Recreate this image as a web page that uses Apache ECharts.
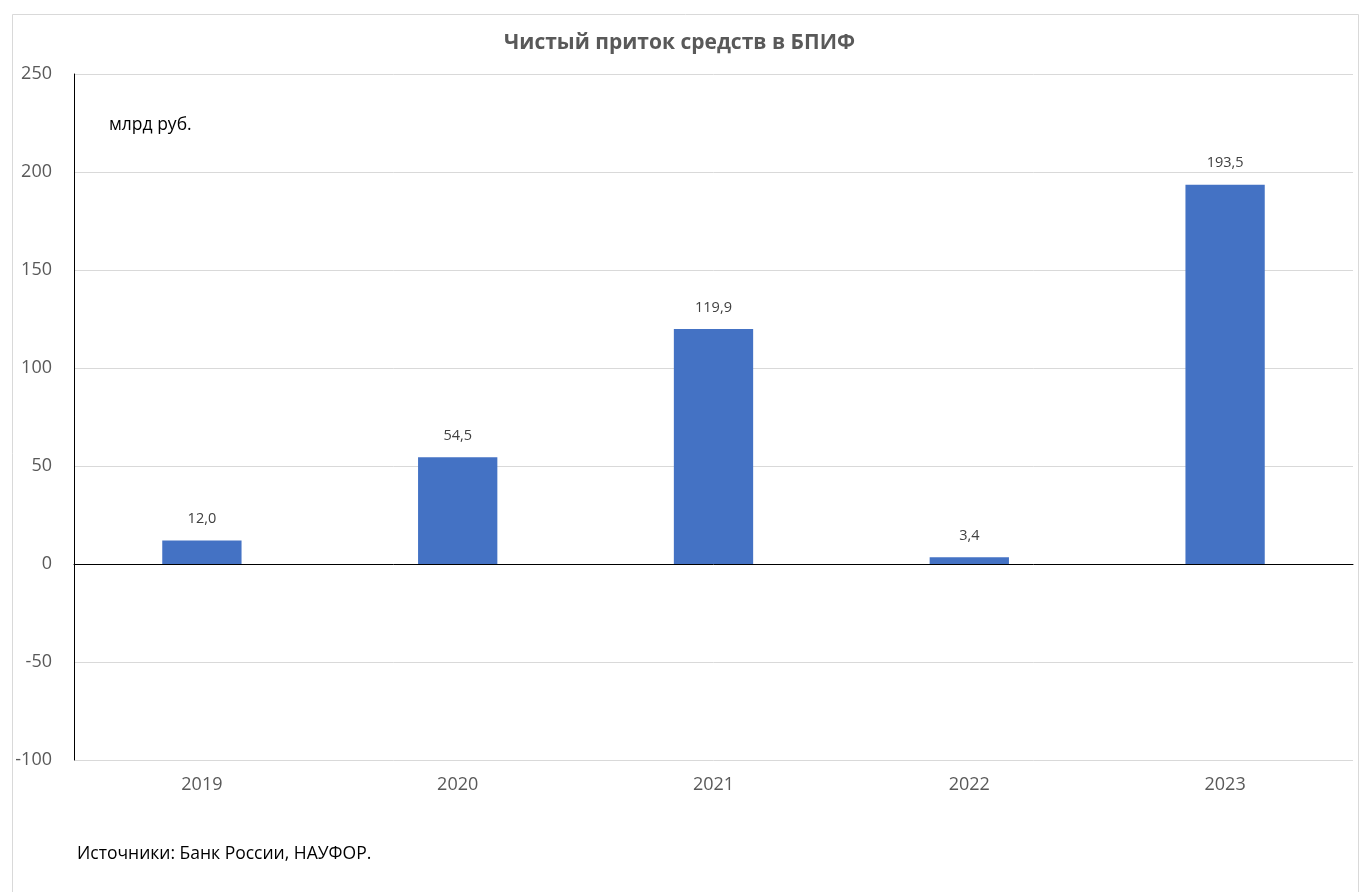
<!DOCTYPE html>
<html><head><meta charset="utf-8">
<script src="https://cdn.jsdelivr.net/npm/echarts@6/dist/echarts.min.js"></script>
<style>html,body{margin:0;padding:0;background:#fff}#c{width:1359px;height:892px}</style>
</head><body><div id="c"></div>
<script>
const categories = ['2019','2020','2021','2022','2023'];
const values = [12.0, 54.5, 119.9, 3.4, 193.5];
const yTicks = [-100, -50, 0, 50, 100, 150, 200, 250];
const titleText = 'Чистый приток средств в БПИФ';
const unitText = 'млрд руб.';
const sourceText = 'Источники: Банк России, НАУФОР.';
const FONT = '"Open Sans", "Noto Sans", sans-serif';

const chart = echarts.init(document.getElementById('c'), null, {renderer:'canvas'});
chart.setOption({
  backgroundColor:'#fff',
  animation:false,
  title:{text:titleText,left:'center',top:28,textStyle:{fontFamily:FONT,fontWeight:'bold',fontSize:21,color:'#595959'}},
  graphic:[
    {type:'rect',left:10,top:12,shape:{width:1346,height:900},style:{fill:'none',stroke:'#d9d9d9',lineWidth:1},z:-1},
    {type:'text',left:109,top:116,style:{text:unitText,font:'17.5px '+FONT,fill:'#000'}},
    {type:'text',left:77,top:845,style:{text:sourceText,font:'17.5px '+FONT,fill:'#000'}}
  ],
  grid:{left:74,right:6,top:74,bottom:132,containLabel:false,outerBoundsMode:'none'},
  xAxis:[
    {type:'category',data:categories,
      axisLine:{show:true,onZero:true,lineStyle:{color:'#000',width:1}},
      axisTick:{show:false},axisLabel:{show:false}},
    {type:'category',data:categories,position:'bottom',
      axisLine:{show:false,onZero:false},axisTick:{show:false},
      axisLabel:{show:true,color:'#595959',fontFamily:FONT,fontSize:18,margin:16}}
  ],
  yAxis:{type:'value',min:yTicks[0],max:yTicks[yTicks.length-1],interval:50,
    axisLine:{show:true,lineStyle:{color:'#000',width:1}},
    axisTick:{show:false},
    axisLabel:{color:'#595959',fontFamily:FONT,fontSize:18,margin:22},
    splitLine:{lineStyle:{color:'#d9d9d9',width:1}}},
  series:[{type:'bar',xAxisIndex:0,data:values,barWidth:'31%',itemStyle:{color:'#4472c4'},
    label:{show:true,position:'top',distance:14,color:'#404040',fontFamily:FONT,fontSize:14.5,
      formatter:p=>p.value.toFixed(1).replace('.',',')}}]
});
</script></body></html>
